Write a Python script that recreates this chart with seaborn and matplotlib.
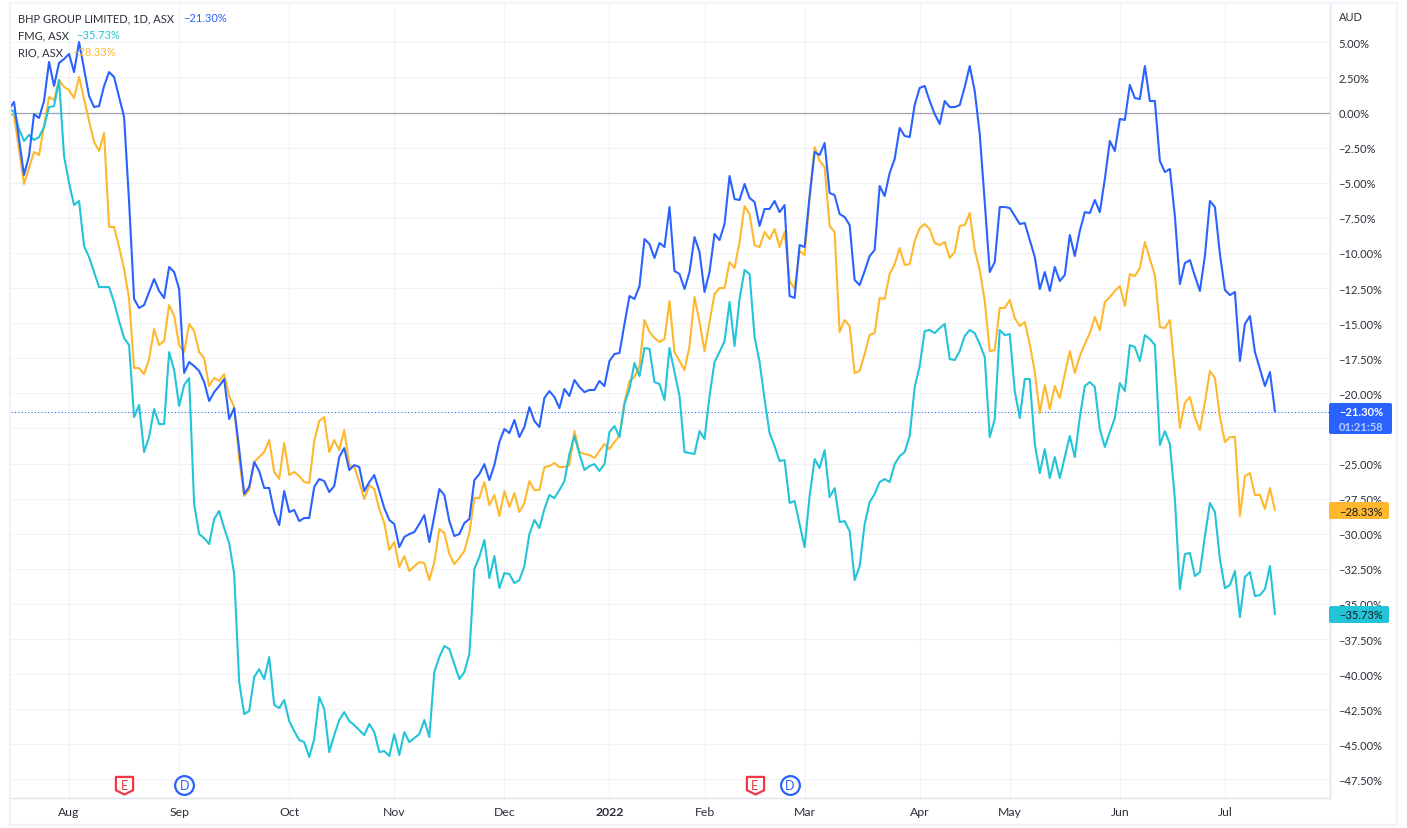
import numpy as np
import pandas as pd
import matplotlib
matplotlib.use('Agg')
import matplotlib.pyplot as plt
import seaborn as sns
from matplotlib.patches import FancyBboxPatch, Rectangle
from matplotlib.path import Path
from matplotlib.transforms import IdentityTransform

# percent change per trading day
bhp = [0.25,0.75,-1.89,-4.45,-3.10,-0.11,-0.39,0.82,3.60,1.89,3.53,3.81,4.17,2.88,5.02,3.10,1.18,0.39,0.46,1.89,
       2.88,2.53,1.10,-0.32,-6.37,-13.28,-13.92,-13.71,-12.78,-11.86,-12.71,-13.21,-11.0,-11.36,-12.57,-18.55,-17.77,-18.06,-18.41,-19.19,
       -20.55,-19.91,-19.48,-18.98,-21.83,-21.05,-23.97,-27.17,-26.67,-24.89,-25.53,-26.74,-26.74,-28.45,-29.38,-26.96,-28.45,-28.31,-29.10,-28.88,
       -28.88,-26.67,-26.10,-26.25,-27.03,-26.60,-24.54,-23.90,-25.46,-25.11,-25.25,-26.96,-26.32,-25.82,-26.96,-28.17,-29.02,-29.31,-30.95,-30.23,
       -30.02,-29.88,-29.31,-28.67,-30.59,-28.74,-26.82,-27.24,-29.10,-30.16,-30.02,-29.24,-28.95,-26.18,-25.75,-25.04,-26.18,-25.11,-23.47,-22.54,
       -22.83,-21.90,-23.11,-22.40,-20.98,-21.97,-22.40,-20.33,-19.84,-20.26,-21.05,-19.69,-20.19,-19.05,-19.55,-19.91,-19.76,-19.76,-19.12,-19.48,
       -17.70,-17.20,-17.13,-15.06,-13.07,-13.28,-12.36,-9.01,-9.37,-10.36,-9.29,-9.58,-6.73,-11.29,-11.50,-12.57,-11.36,-8.87,-9.94,-12.78,
       -11.36,-8.65,-9.08,-7.94,-4.52,-6.16,-6.23,-5.09,-6.09,-6.37,-8.08,-6.87,-6.87,-6.30,-7.09,-6.59,-13.07,-13.21,-9.44,-9.58,
       -5.95,-2.81,-3.03,-2.17,-5.73,-5.88,-7.23,-7.44,-8.01,-11.93,-12.29,-11.29,-10.22,-9.79,-5.23,-5.95,-4.31,-3.31,-1.10,-1.67,
       -1.75,0.53,1.75,1.89,0.82,-0.11,-0.82,0.82,0.39,0.39,0.53,1.82,3.31,1.53,-1.53,-6.37,-11.36,-10.65,-6.73,-6.73,
       -6.80,-7.37,-7.94,-7.87,-9.08,-10.29,-12.57,-11.36,-12.71,-11.0,-12.0,-11.57,-8.72,-10.22,-8.44,-7.09,-7.16,-6.23,-7.09,-4.74,
       -2.03,-2.74,-0.46,-0.53,1.96,1.03,0.96,3.31,0.82,0.82,-3.45,-4.24,-4.02,-7.37,-12.22,-10.72,-10.51,-11.65,-12.71,-10.22,
       -6.30,-6.73,-10.08,-12.64,-13.0,-12.78,-17.70,-15.06,-14.49,-17.06,-18.27,-19.48,-18.48,-21.30]
fmg = [0.18,0.1,-1.18,-2.03,-1.6,-1.96,-1.75,-1.03,0.39,0.46,2.31,-3.1,-5.02,-6.59,-6.3,-9.51,-10.29,-11.36,-12.43,-12.43,
       -12.43,-13.5,-14.85,-16.06,-16.56,-21.69,-20.83,-24.18,-23.11,-21.12,-22.19,-22.19,-17.06,-18.34,-20.9,-19.41,-18.91,-27.88,-30.02,-30.31,
       -30.73,-28.95,-28.38,-29.59,-30.66,-32.87,-40.56,-42.84,-42.63,-40.21,-39.64,-40.35,-38.78,-42.2,-42.41,-41.84,-43.34,-44.05,-44.69,-44.84,
       -45.9,-44.62,-41.63,-42.48,-45.55,-44.34,-43.27,-42.7,-43.34,-43.63,-43.98,-44.34,-43.55,-44.12,-45.55,-45.48,-45.83,-44.27,-45.76,-44.12,
       -44.84,-44.55,-44.27,-43.27,-44.48,-39.85,-38.78,-38.0,-38.21,-39.28,-40.35,-39.85,-38.57,-32.51,-31.66,-30.45,-33.15,-31.59,-33.87,-32.8,
       -32.87,-33.51,-33.3,-32.3,-30.02,-29.02,-29.59,-28.24,-27.24,-27.46,-26.89,-26.25,-24.32,-23.04,-24.32,-25.46,-25.18,-25.04,-25.53,-25.04,
       -22.76,-22.33,-23.11,-20.76,-19.69,-17.84,-18.77,-16.77,-16.84,-19.2,-19.34,-20.48,-16.77,-18.48,-20.19,-24.18,-24.25,-24.32,-22.69,-23.25,
       -20.19,-17.77,-17.06,-16.27,-13.5,-16.63,-13.28,-11.22,-11.5,-15.99,-17.77,-20.41,-22.83,-23.75,-24.82,-24.75,-27.81,-27.67,-29.31,-30.95,
       -27.31,-24.68,-25.32,-24.04,-27.39,-26.75,-29.17,-29.1,-29.81,-33.3,-32.3,-29.31,-27.74,-27.17,-26.32,-26.1,-26.32,-25.04,-24.47,-24.18,
       -23.04,-19.55,-18.06,-15.56,-15.49,-15.71,-15.35,-15.06,-17.56,-17.63,-16.99,-15.92,-15.49,-15.71,-16.49,-17.41,-23.11,-21.83,-15.49,-15.85,
       -15.78,-19.84,-21.76,-18.98,-18.98,-23.61,-25.68,-23.97,-26.03,-24.54,-26.03,-24.54,-23.04,-24.54,-21.69,-19.48,-19.2,-19.55,-22.54,-23.82,
       -22.76,-21.76,-19.27,-19.84,-16.56,-16.7,-17.7,-15.85,-16.13,-16.56,-23.68,-22.69,-23.61,-27.53,-33.94,-31.45,-31.37,-33.01,-32.73,-30.16,
       -27.81,-28.45,-31.8,-33.87,-33.65,-32.66,-35.93,-33.08,-32.73,-34.44,-34.37,-33.94,-32.3,-35.73]
rio = [-0.04,-0.25,-2.6,-5.09,-3.95,-2.81,-3.03,-0.96,1.10,0.89,2.31,1.82,1.6,1.03,2.53,0.96,-0.6,-2.1,-2.74,-1.46,
       -8.15,-8.15,-9.58,-11.15,-13.28,-18.2,-18.2,-18.63,-17.56,-15.42,-16.56,-16.27,-13.71,-14.49,-16.56,-17.06,-15.06,-15.56,-17.06,-17.49,
       -19.48,-18.91,-19.12,-18.63,-20.19,-20.98,-24.68,-27.31,-26.89,-24.89,-24.54,-24.18,-23.33,-25.6,-26.1,-23.54,-25.82,-25.6,-25.89,-26.32,
       -26.39,-23.4,-21.97,-21.69,-24.18,-23.33,-24.04,-22.61,-25.11,-25.25,-26.32,-27.53,-26.53,-26.82,-28.24,-29.24,-31.16,-30.59,-32.37,-31.59,
       -32.66,-32.3,-32.02,-32.09,-33.3,-32.02,-29.67,-29.95,-31.45,-32.16,-31.73,-31.23,-29.95,-27.46,-27.46,-26.32,-27.96,-27.24,-28.74,-26.96,
       -28.1,-27.1,-28.45,-27.81,-26.25,-26.89,-26.89,-25.25,-25.18,-24.96,-25.25,-25.25,-25.11,-22.69,-24.18,-24.32,-24.39,-24.6,-24.11,-23.61,
       -23.97,-23.47,-23.04,-20.62,-19.12,-18.84,-18.06,-14.78,-15.63,-16.06,-16.35,-16.13,-13.43,-17.06,-17.7,-18.34,-16.63,-13.14,-14.92,-16.99,
       -14.92,-12.93,-12.5,-12.5,-10.65,-11.08,-9.22,-6.66,-7.23,-9.44,-9.58,-8.51,-9.01,-8.3,-9.58,-8.51,-12.0,-12.57,-9.86,-10.15,
       -6.16,-2.46,-3.45,-3.88,-8.08,-8.51,-15.63,-14.78,-15.21,-18.55,-18.41,-17.2,-15.85,-15.7,-13.21,-13.28,-11.5,-10.79,-9.65,-10.86,
       -10.79,-9.15,-8.23,-7.94,-8.3,-9.29,-9.44,-9.22,-10.36,-9.94,-8.08,-8.01,-7.16,-9.79,-11.22,-13.43,-16.99,-16.92,-13.92,-13.92,
       -13.35,-14.64,-15.21,-14.92,-16.49,-18.48,-21.4,-19.41,-21.12,-19.48,-20.33,-18.63,-16.99,-18.55,-17.34,-16.49,-15.7,-14.57,-15.49,-13.5,
       -13.14,-12.71,-12.36,-13.78,-11.5,-11.65,-11.08,-9.22,-10.43,-11.57,-15.28,-15.35,-14.78,-18.48,-22.47,-20.69,-20.26,-21.69,-22.61,-20.62,
       -18.41,-18.91,-21.69,-23.47,-23.11,-23.11,-28.74,-25.89,-25.68,-27.24,-27.24,-28.24,-26.74,-28.33]

month_labels = ['Aug','Sep','Oct','Nov','Dec','2022','Feb','Mar','Apr','May','Jun','Jul']
month_days = [12,34,56,77,99,120,139,159,182,200,222,243]
pct_ticks = [5-2.5*k for k in range(22)]
earnings_days = [23,149]
dividend_days = [35,156]

BLUE = '#2962ff'
ORANGE = '#ffb82e'
TEAL = '#22c4d8'
DARK = '#2a2e39'
GRID = '#f0f3fa'

sns.set_theme(style='white')
plt.rcParams['font.family'] = ['Lato', 'DejaVu Sans']
FS = 8.0

W, H = 1407, 829
fig = plt.figure(figsize=(W/100, H/100), dpi=100)
ax = fig.add_axes([10.5/W, (H-799)/H, 1319/W, 795/H])

frames = []
for name, vals in [('RIO', rio), ('FMG', fmg), ('BHP', bhp)]:
    frames.append(pd.DataFrame({'day': np.arange(len(vals)), 'pct': vals, 'name': name}))
df = pd.concat(frames)
sns.lineplot(data=df, x='day', y='pct', hue='name', hue_order=['RIO','FMG','BHP'],
             palette={'RIO': ORANGE, 'FMG': TEAL, 'BHP': BLUE}, estimator=None, sort=False,
             legend=False, linewidth=1.5, ax=ax, zorder=3)

ax.set_xlim(0.3, 263.9)
ax.set_ylim(-48.82, 7.8)
ax.set_xlabel('')
ax.set_ylabel('')
ax.set_xticks(month_days)
ax.set_xticklabels(month_labels, fontsize=8.8, color=DARK)
ax.get_xticklabels()[5].set_fontweight('bold')
ax.yaxis.tick_right()
ax.set_yticks(pct_ticks)
# the -22.50% label sits behind the blue price tag in the original
ax.set_yticklabels(['' if v == -22.5 else f'{v:.2f}%'.replace('-', '\u2212') for v in pct_ticks],
                   fontsize=FS, color=DARK)
ax.tick_params(axis='x', length=0, pad=6)
ax.tick_params(axis='y', length=0, pad=6.5)
ax.grid(True, color='#f1f2f5', linewidth=0.8)
ax.set_axisbelow(True)
for s in ['left', 'top']:
    ax.spines[s].set_visible(False)
for s in ['right', 'bottom']:
    ax.spines[s].set_color('#e0e3eb')
    ax.spines[s].set_linewidth(1)

ax.axhline(0, color='#a3a6af', linewidth=0.9, zorder=2)
ax.axhline(bhp[-1], color=BLUE, linewidth=0.8, linestyle=(0, (1, 2)), zorder=2)

# earnings and dividend flags on the bottom of the pane
shield = Path([(-1,1),(1,1),(1,-0.55),(0,-1.05),(-1,-0.55),(-1,1)], closed=True)
flag_y = -47.9
for d in earnings_days:
    ax.plot([d], [flag_y], marker=shield, ms=13, mfc='white', mec='#f23645', mew=1.6, ls='', zorder=5)
    ax.text(d, flag_y, 'E', color='#f23645', fontsize=9, ha='center', va='center', zorder=6)
for d in dividend_days:
    ax.plot([d], [flag_y], marker='o', ms=13.5, mfc='white', mec=BLUE, mew=1.6, ls='', zorder=5)
    ax.text(d, flag_y, 'D', color=BLUE, fontsize=9, ha='center', va='center', zorder=6)

def px_text(x, y, s, **kw):
    kw.setdefault('fontsize', FS)
    kw.setdefault('va', 'center')
    kw.setdefault('color', DARK)
    return fig.text(x/W, (H-y)/H, s, zorder=20, **kw)

def tag(x0, y0, x1, y1, color):
    fig.add_artist(FancyBboxPatch((x0, H-y1), x1-x0, y1-y0, boxstyle='round,pad=0,rounding_size=2',
                                  fc=color, ec='none', transform=IdentityTransform(), zorder=15))

# outer widget border
fig.add_artist(Rectangle((10, H-826), 1386.5, 822, fc='none', ec=GRID, lw=1.6,
                         transform=IdentityTransform(), zorder=1))

# legend in the top left corner
px_text(18, 18.5, 'BHP GROUP LIMITED, 1D, ASX')
px_text(183, 18.5, '\u221221.30%', color=BLUE)
px_text(18, 35.5, 'FMG, ASX')
px_text(76, 35.5, '\u221235.73%', color=TEAL)
px_text(18, 52.5, 'RIO, ASX')
px_text(72, 52.5, '\u221228.33%', color=ORANGE)

# price scale
px_text(1339, 17.5, 'AUD')
tag(1329, 404, 1392, 435, BLUE)
px_text(1339, 412.5, '\u221221.30%', color='white', fontweight='bold')
px_text(1339, 427.5, '01:21:58', color='#bccdff', fontweight='bold')
tag(1329, 503, 1389, 520, ORANGE)
px_text(1339, 512, '\u221228.33%', color='#131722')
tag(1329, 607, 1389, 624, TEAL)
px_text(1339, 616, '\u221235.73%', color='#131722')

fig.savefig('out.png', dpi=100)
